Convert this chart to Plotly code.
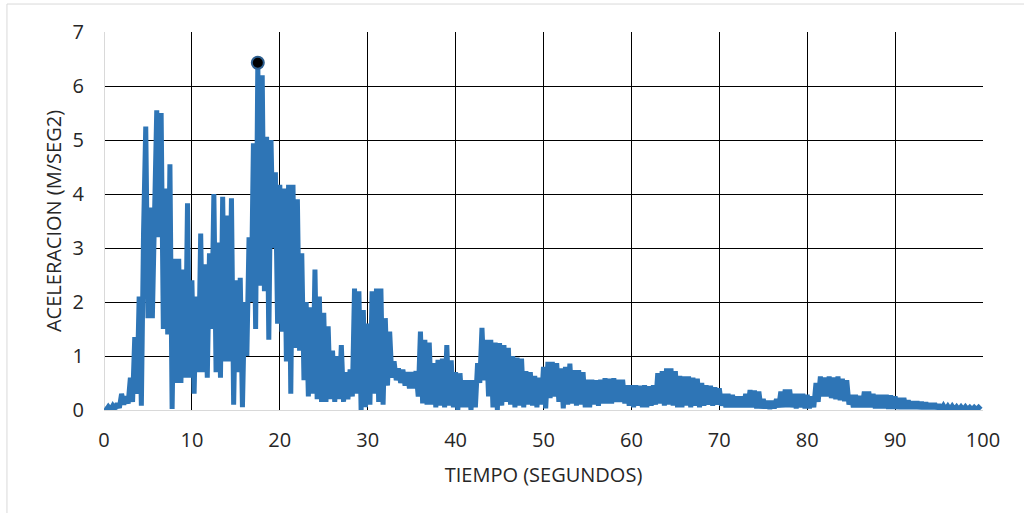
import plotly.graph_objects as go

# Ground acceleration record, sampled every 0.25 s (m/s^2)
dt = 0.25
accel = [
    # 0 - 5 s
    0.03, 0.0, 0.06, 0.01, 0.08, 0.02, 0.12, 0.04, 0.3, 0.1,
    0.25, 0.12, 0.6, 0.15, 1.35, 0.3, 2.1, 0.08, 3.3, 5.25,
    # 5 - 10 s
    1.7, 3.75, 1.7, 3.7, 5.55, 3.2, 5.5, 1.5, 4.1, 1.4,
    4.55, 0.02, 2.8, 0.5, 2.8, 0.5, 2.6, 0.6, 3.83, 0.6,
    # 10 - 15 s
    2.4, 0.3, 2.1, 0.7, 3.27, 0.7, 2.7, 0.6, 2.9, 1.5,
    4.0, 0.7, 3.1, 0.6, 3.95, 0.9, 3.6, 0.9, 3.92, 0.1,
    # 15 - 20 s
    2.4, 0.7, 2.45, 0.05, 2.0, 1.0, 3.2, 2.0, 4.94, 1.5,
    6.43, 2.3, 6.2, 2.2, 5.06, 1.3, 5.0, 3.0, 4.4, 1.6,
    # 20 - 25 s
    4.17, 1.45, 4.1, 0.9, 4.17, 0.3, 4.17, 1.15, 3.9, 1.1,
    2.9, 0.55, 2.0, 0.25, 1.9, 0.3, 2.6, 0.2, 2.1, 0.15,
    # 25 - 30 s
    1.8, 0.15, 1.55, 0.2, 1.1, 0.15, 1.0, 0.2, 1.2, 0.15,
    0.7, 0.2, 0.75, 0.25, 2.25, 0.3, 2.2, 0.0, 1.85, 0.05,
    # 30 - 35 s
    1.6, 0.1, 2.2, 0.3, 2.25, 0.15, 2.25, 0.1, 1.7, 0.45,
    1.45, 0.6, 0.9, 0.55, 0.77, 0.5, 0.75, 0.45, 0.7, 0.4,
    # 35 - 40 s
    0.7, 0.4, 0.72, 0.25, 1.45, 0.12, 1.3, 0.1, 1.25, 0.1,
    0.87, 0.05, 0.93, 0.08, 0.95, 0.05, 1.2, 0.08, 0.92, 0.05,
    # 40 - 45 s
    0.7, 0.0, 0.68, 0.05, 0.55, 0.05, 0.55, 0.0, 0.55, 0.05,
    0.87, 0.5, 1.52, 0.55, 1.3, 0.25, 1.3, 0.05, 1.25, 0.0,
    # 45 - 50 s
    1.24, 0.08, 1.2, 0.15, 1.15, 0.1, 1.0, 0.05, 0.97, 0.08,
    0.95, 0.05, 0.72, 0.1, 0.7, 0.08, 0.63, 0.05, 0.6, 0.1,
    # 50 - 55 s
    0.8, 0.03, 0.89, 0.22, 0.89, 0.25, 0.87, 0.15, 0.77, 0.03,
    0.8, 0.1, 0.86, 0.12, 0.74, 0.08, 0.74, 0.1, 0.7, 0.05,
    # 55 - 60 s
    0.56, 0.05, 0.56, 0.1, 0.55, 0.08, 0.56, 0.12, 0.59, 0.12,
    0.58, 0.12, 0.59, 0.15, 0.56, 0.15, 0.56, 0.12, 0.46, 0.08,
    # 60 - 65 s
    0.46, 0.05, 0.46, 0.08, 0.45, 0.05, 0.46, 0.05, 0.44, 0.08,
    0.46, 0.1, 0.68, 0.12, 0.72, 0.08, 0.77, 0.1, 0.77, 0.08,
    # 65 - 70 s
    0.72, 0.05, 0.63, 0.05, 0.62, 0.08, 0.62, 0.05, 0.6, 0.08,
    0.58, 0.05, 0.5, 0.08, 0.46, 0.1, 0.45, 0.08, 0.42, 0.1,
    # 70 - 75 s
    0.4, 0.08, 0.3, 0.05, 0.3, 0.05, 0.28, 0.05, 0.25, 0.05,
    0.25, 0.05, 0.3, 0.05, 0.37, 0.05, 0.36, 0.03, 0.34, 0.03,
    # 75 - 80 s
    0.2, 0.03, 0.17, 0.02, 0.17, 0.03, 0.2, 0.05, 0.34, 0.05,
    0.38, 0.05, 0.38, 0.05, 0.3, 0.03, 0.3, 0.05, 0.3, 0.03,
    # 80 - 85 s
    0.28, 0.03, 0.25, 0.05, 0.5, 0.15, 0.62, 0.25, 0.6, 0.25,
    0.62, 0.22, 0.6, 0.2, 0.62, 0.18, 0.58, 0.16, 0.55, 0.1,
    # 85 - 90 s
    0.28, 0.05, 0.28, 0.05, 0.26, 0.05, 0.34, 0.05, 0.34, 0.05,
    0.3, 0.03, 0.28, 0.03, 0.28, 0.03, 0.28, 0.02, 0.27, 0.02,
    # 90 - 95 s
    0.25, 0.02, 0.22, 0.02, 0.22, 0.02, 0.18, 0.02, 0.16, 0.02,
    0.16, 0.02, 0.15, 0.02, 0.14, 0.02, 0.12, 0.02, 0.12, 0.02,
    # 95 - 100 s
    0.1, 0.01, 0.08, 0.01, 0.07, 0.01, 0.07, 0.01, 0.06, 0.01,
    0.06, 0.01, 0.06, 0.01, 0.05, 0.01, 0.05, 0.01, 0.05, 0.01,
]
time = [i * dt for i in range(len(accel))]

x_ticks = [0, 10, 20, 30, 40, 50, 60, 70, 80, 90, 100]
y_ticks = [0, 1, 2, 3, 4, 5, 6, 7]

# Peak ground acceleration
peak_i = max(range(len(accel)), key=lambda i: accel[i])
peak_t, peak_a = time[peak_i], accel[peak_i]

LINE_BLUE = "#2E75B6"
TEXT = "#262626"
FONT = "Open Sans"

fig = go.Figure()
fig.add_trace(go.Scatter(
    x=time, y=accel, mode="lines",
    line=dict(color=LINE_BLUE, width=5),
    hoverinfo="skip", showlegend=False,
))
fig.add_trace(go.Scatter(
    x=[peak_t], y=[peak_a], mode="markers",
    marker=dict(size=12, color="black", line=dict(color="#2E5F8F", width=2)),
    showlegend=False,
))

axis_common = dict(
    showgrid=True, gridcolor="black", gridwidth=1,
    zeroline=True, zerolinecolor="#D9D9D9", zerolinewidth=1,
    showline=False, ticks="",
    tickfont=dict(family=FONT, size=20, color=TEXT),
    fixedrange=True,
)

fig.update_xaxes(
    range=[0, 100], tickvals=x_ticks, ticktext=[str(v) for v in x_ticks],
    title=dict(text="TIEMPO (SEGUNDOS)", font=dict(family=FONT, size=20, color=TEXT), standoff=15),
    ticklabelstandoff=16,
    **axis_common,
)
fig.update_yaxes(
    range=[0, 7], tickvals=y_ticks, ticktext=[str(v) for v in y_ticks],
    title=dict(text="ACELERACION (M/SEG2)", font=dict(family=FONT, size=20, color=TEXT), standoff=5),
    ticklabelstandoff=19,
    **axis_common,
)

# Light frame around the chart area
fig.add_shape(type="line", xref="paper", yref="paper",
              x0=-0.1104, x1=-0.1104, y0=-0.35, y1=1.074,
              line=dict(color="#D9D9D9", width=1))
fig.add_shape(type="line", xref="paper", yref="paper",
              x0=-0.1104, x1=1.1, y0=1.074, y1=1.074,
              line=dict(color="#D9D9D9", width=1))

fig.update_layout(
    width=1024, height=513,
    margin=dict(l=104, r=41, t=32, b=103),
    paper_bgcolor="white", plot_bgcolor="white",
)

fig.write_html("out.html")
